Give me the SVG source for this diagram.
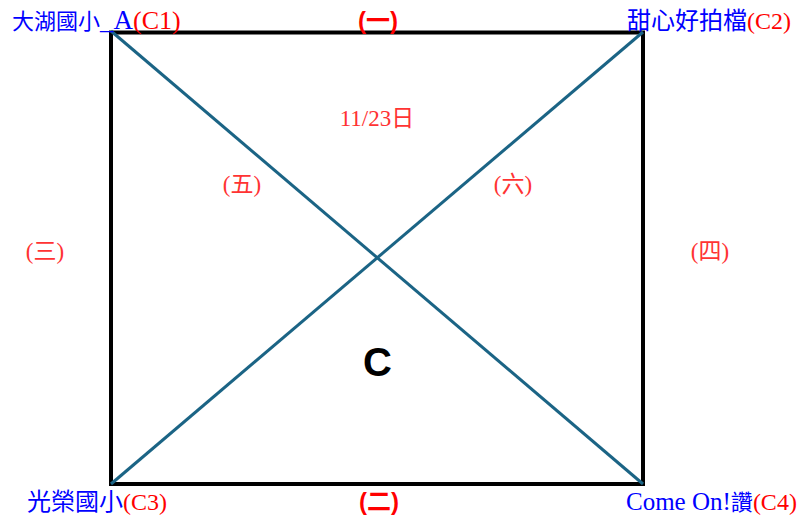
<svg xmlns="http://www.w3.org/2000/svg" width="802" height="521" viewBox="0 0 802 521">
<style>
.lbl{font-family:"Liberation Serif","Noto Sans CJK TC",serif;font-size:24px}
.lat{font-size:25px}
.rl{font-size:24px}
.b{fill:#0000ff}
.r{fill:#ff0000}
.side{font-family:"Liberation Sans","Noto Sans CJK TC",sans-serif;font-size:24px;font-weight:bold;fill:#ff0000;text-anchor:middle}
.inner{font-family:"Liberation Serif","Noto Sans CJK TC",serif;font-size:23px;fill:#ff3333;text-anchor:middle}
.diag{stroke:#1b6485;stroke-width:3;fill:none}
</style>
<rect width="802" height="521" fill="#ffffff"/>
<g id="field">
<rect x="111" y="32.5" width="532" height="451.5" fill="none" stroke="#000" stroke-width="4"/>
</g>
<g id="connectors">
<line class="diag" x1="111" y1="31" x2="643" y2="484"/>
<line class="diag" x1="643" y1="32" x2="111" y2="484"/>
</g>
<g id="c1"><text class="lbl" x="12" y="29"><tspan class="b" font-size="22">大湖國小</tspan><tspan class="b" font-size="27">_A</tspan><tspan class="r" font-size="26">(C1)</tspan></text></g>
<g id="c2"><text class="lbl" x="627" y="29"><tspan class="b">甜心好拍檔</tspan><tspan class="r rl">(C2)</tspan></text></g>
<g id="c3"><text class="lbl" x="27" y="510"><tspan class="b">光榮國小</tspan><tspan class="r rl">(C3)</tspan></text></g>
<g id="c4"><text class="lbl" x="626" y="510"><tspan class="b lat">Come On!</tspan><tspan class="b" font-size="22">讚</tspan><tspan class="r rl">(C4)</tspan></text></g>
<g id="s1"><text class="side" x="378" y="29">(一)</text></g>
<g id="s2"><text class="side" x="379" y="510">(二)</text></g>
<g id="s3"><text class="inner" x="45" y="259">(三)</text></g>
<g id="s4"><text class="inner" x="710" y="259">(四)</text></g>
<g id="s5"><text class="inner" x="242" y="192">(五)</text></g>
<g id="s6"><text class="inner" x="513" y="192">(六)</text></g>
<g id="date"><text class="inner" x="377" y="126">11/23日</text></g>
<g id="center"><text x="377.5" y="376" font-family="Liberation Sans, Arial, sans-serif" font-size="40" font-weight="bold" text-anchor="middle" fill="#000">C</text></g>
</svg>
